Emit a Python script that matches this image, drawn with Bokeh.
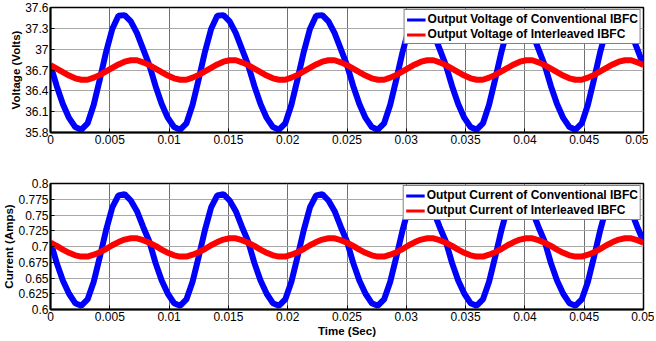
import numpy as np
from bokeh.plotting import figure
from bokeh.layouts import column
from bokeh.models import FixedTicker, Legend, LegendItem, Range1d
from bokeh.embed import file_html
from bokeh.resources import INLINE

# sampling instants (s): 97 samples over 0..0.05 s
time_s = np.linspace(0.0, 0.05, 97)

# Output voltage, conventional IBFC (V)
v_conv = [
    36.77, 36.47, 36.21, 36.01, 35.88, 35.84, 35.93, 36.20, 36.57, 36.96, 37.29, 37.48, 37.49, 37.40, 37.23, 37.00,
    36.77, 36.47, 36.21, 36.01, 35.88, 35.84, 35.93, 36.20, 36.57, 36.96, 37.29, 37.48, 37.49, 37.40, 37.23, 37.00,
    36.77, 36.47, 36.21, 36.01, 35.88, 35.84, 35.93, 36.20, 36.57, 36.96, 37.29, 37.48, 37.49, 37.40, 37.23, 37.00,
    36.77, 36.47, 36.21, 36.01, 35.88, 35.84, 35.93, 36.20, 36.57, 36.96, 37.29, 37.48, 37.49, 37.40, 37.23, 37.00,
    36.77, 36.47, 36.21, 36.01, 35.88, 35.84, 35.93, 36.20, 36.57, 36.96, 37.29, 37.48, 37.49, 37.40, 37.23, 37.00,
    36.77, 36.47, 36.21, 36.01, 35.88, 35.84, 35.93, 36.20, 36.57, 36.96, 37.29, 37.48, 37.49, 37.40, 37.23, 37.00,
    36.77,
]
# Output voltage, interleaved IBFC (V)
v_inter = [
    36.77, 36.72, 36.67, 36.62, 36.58, 36.56, 36.56, 36.59, 36.63, 36.68, 36.73, 36.78, 36.82, 36.84, 36.84, 36.81,
    36.77, 36.72, 36.67, 36.62, 36.58, 36.56, 36.56, 36.59, 36.63, 36.68, 36.73, 36.78, 36.82, 36.84, 36.84, 36.81,
    36.77, 36.72, 36.67, 36.62, 36.58, 36.56, 36.56, 36.59, 36.63, 36.68, 36.73, 36.78, 36.82, 36.84, 36.84, 36.81,
    36.77, 36.72, 36.67, 36.62, 36.58, 36.56, 36.56, 36.59, 36.63, 36.68, 36.73, 36.78, 36.82, 36.84, 36.84, 36.81,
    36.77, 36.72, 36.67, 36.62, 36.58, 36.56, 36.56, 36.59, 36.63, 36.68, 36.73, 36.78, 36.82, 36.84, 36.84, 36.81,
    36.77, 36.72, 36.67, 36.62, 36.58, 36.56, 36.56, 36.59, 36.63, 36.68, 36.73, 36.78, 36.82, 36.84, 36.84, 36.81,
    36.77,
]
# Output current, conventional IBFC (A)
i_conv = [
    0.708, 0.674, 0.646, 0.625, 0.610, 0.606, 0.616, 0.644, 0.684, 0.726, 0.762, 0.781, 0.783, 0.773, 0.756, 0.731,
    0.708, 0.674, 0.646, 0.625, 0.610, 0.606, 0.616, 0.644, 0.684, 0.726, 0.762, 0.781, 0.783, 0.773, 0.756, 0.731,
    0.708, 0.674, 0.646, 0.625, 0.610, 0.606, 0.616, 0.644, 0.684, 0.726, 0.762, 0.781, 0.783, 0.773, 0.756, 0.731,
    0.708, 0.674, 0.646, 0.625, 0.610, 0.606, 0.616, 0.644, 0.684, 0.726, 0.762, 0.781, 0.783, 0.773, 0.756, 0.731,
    0.708, 0.674, 0.646, 0.625, 0.610, 0.606, 0.616, 0.644, 0.684, 0.726, 0.762, 0.781, 0.783, 0.773, 0.756, 0.731,
    0.708, 0.674, 0.646, 0.625, 0.610, 0.606, 0.616, 0.644, 0.684, 0.726, 0.762, 0.781, 0.783, 0.773, 0.756, 0.731,
    0.708,
]
# Output current, interleaved IBFC (A)
i_inter = [
    0.706, 0.701, 0.695, 0.690, 0.686, 0.684, 0.684, 0.687, 0.691, 0.696, 0.702, 0.707, 0.711, 0.713, 0.713, 0.710,
    0.706, 0.701, 0.695, 0.690, 0.686, 0.684, 0.684, 0.687, 0.691, 0.696, 0.702, 0.707, 0.711, 0.713, 0.713, 0.710,
    0.706, 0.701, 0.695, 0.690, 0.686, 0.684, 0.684, 0.687, 0.691, 0.696, 0.702, 0.707, 0.711, 0.713, 0.713, 0.710,
    0.706, 0.701, 0.695, 0.690, 0.686, 0.684, 0.684, 0.687, 0.691, 0.696, 0.702, 0.707, 0.711, 0.713, 0.713, 0.710,
    0.706, 0.701, 0.695, 0.690, 0.686, 0.684, 0.684, 0.687, 0.691, 0.696, 0.702, 0.707, 0.711, 0.713, 0.713, 0.710,
    0.706, 0.701, 0.695, 0.690, 0.686, 0.684, 0.684, 0.687, 0.691, 0.696, 0.702, 0.707, 0.711, 0.713, 0.713, 0.710,
    0.706,
]

x_ticks = [0, 0.005, 0.01, 0.015, 0.02, 0.025, 0.03, 0.035, 0.04, 0.045, 0.05]
x_tick_labels = ["0", "0.005", "0.01", "0.015", "0.02", "0.025", "0.03", "0.035", "0.04", "0.045", "0.05"]
v_ticks = [35.8, 36.1, 36.4, 36.7, 37.0, 37.3, 37.6]
v_tick_labels = ["35.8", "36.1", "36.4", "36.7", "37", "37.3", "37.6"]
i_ticks = [0.6, 0.625, 0.65, 0.675, 0.7, 0.725, 0.75, 0.775, 0.8]
i_tick_labels = ["0.6", "0.625", "0.65", "0.675", "0.7", "0.725", "0.75", "0.775", "0.8"]

series_v = ["Output Voltage of Conventional IBFC", "Output Voltage of Interleaved IBFC"]
series_i = ["Output Current of Conventional IBFC", "Output Current of Interleaved IBFC"]

FONT = "Liberation Sans"
BLUE = "#0000ff"
RED = "#ff0000"


def style(p, yticks, ylabels, ylabel, xlabel=None):
    p.xaxis.ticker = FixedTicker(ticks=x_ticks)
    p.xaxis.major_label_overrides = dict(zip(x_ticks, x_tick_labels))
    p.yaxis.ticker = FixedTicker(ticks=yticks)
    p.yaxis.major_label_overrides = dict(zip(yticks, ylabels))
    for ax in (p.xaxis, p.yaxis):
        ax.major_label_text_font = FONT
        ax.major_label_text_font_size = "12px"
        ax.major_label_text_color = "black"
        ax.axis_line_color = "black"
        ax.axis_line_width = 2
        ax.major_tick_in = 4
        ax.major_tick_out = 0
        ax.major_tick_line_color = "black"
        ax.minor_tick_line_color = None
        ax.axis_label_text_font = FONT
        ax.axis_label_text_font_size = "11.5px"
        ax.axis_label_text_font_style = "bold"
        ax.axis_label_text_color = "black"
    p.yaxis.major_label_standoff = 2
    p.yaxis.axis_label_standoff = 0
    p.xaxis.major_label_standoff = 2
    p.xaxis.axis_label_standoff = 1
    p.yaxis.axis_label = ylabel
    if xlabel:
        p.xaxis.axis_label = xlabel
    p.xgrid.grid_line_color = "#707070"
    p.ygrid.grid_line_color = "#a8a8a8"
    p.xgrid.grid_line_width = 1
    p.ygrid.grid_line_width = 1
    p.outline_line_color = "black"
    p.outline_line_width = 1.5
    p.outline_line_alpha = 1


def add_legend(p, x, y1, y2, labels):
    # thinner one-sample stand-in glyphs (draw nothing) used only as legend keys
    k1 = p.line(x[:1], y1[:1], line_color=BLUE, line_width=3)
    k2 = p.line(x[:1], y2[:1], line_color=RED, line_width=3)
    leg = Legend(items=[LegendItem(label=labels[0], renderers=[k1]),
                        LegendItem(label=labels[1], renderers=[k2])],
                 location="top_right")
    leg.label_text_font = FONT
    leg.label_text_font_size = "12px"
    leg.label_text_font_style = "bold"
    leg.label_text_color = "black"
    leg.label_height = 13
    leg.label_standoff = 2
    leg.glyph_width = 19
    leg.glyph_height = 13
    leg.spacing = 1
    leg.padding = 2
    leg.margin = 2
    leg.border_line_color = "black"
    leg.border_line_width = 1
    leg.background_fill_alpha = 1
    p.add_layout(leg)


p1 = figure(frame_width=593, frame_height=125, output_backend="svg", toolbar_location=None,
            x_range=Range1d(0, 0.05), y_range=Range1d(35.8, 37.6),
            min_border_left=44, min_border_right=11, min_border_top=7, min_border_bottom=22)
p1.line(time_s, v_conv, line_color=BLUE, line_width=6)
p1.line(time_s, v_inter, line_color=RED, line_width=6)
style(p1, v_ticks, v_tick_labels, "Voltage (Volts)")
add_legend(p1, time_s, v_conv, v_inter, series_v)

p2 = figure(frame_width=593, frame_height=126, output_backend="svg", toolbar_location=None,
            x_range=Range1d(0, 0.05), y_range=Range1d(0.6, 0.8),
            min_border_left=44, min_border_right=11, min_border_top=29, min_border_bottom=20)
p2.line(time_s, i_conv, line_color=BLUE, line_width=6)
p2.line(time_s, i_inter, line_color=RED, line_width=6)
style(p2, i_ticks, i_tick_labels, "Current (Amps)", "Time (Sec)")
add_legend(p2, time_s, i_conv, i_inter, series_i)

layout = column(p1, p2, spacing=0)
open("out.html", "w").write(file_html(layout, INLINE))
